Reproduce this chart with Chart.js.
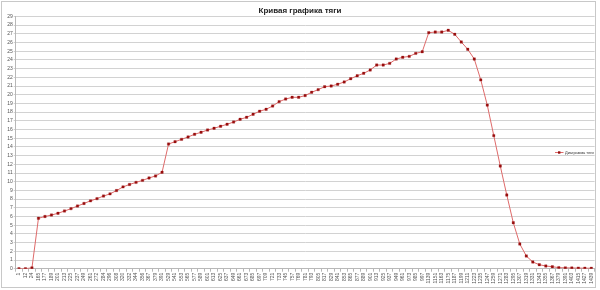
<!DOCTYPE html>
<html>
<head>
<meta charset="utf-8">
<script src="https://cdn.jsdelivr.net/npm/chart.js@4"></script>
<style>
html,body{margin:0;padding:0;background:#fff;}
#wrap{width:600px;height:290px;position:relative;}
</style>
</head>
<body>
<div id="wrap"><canvas id="c" width="600" height="290"></canvas></div>
<script>
const chartTitle = 'Кривая графика тяги';
const seriesName = 'Диаграмма тяги';

const categories = [
  1, 12, 24,
  165, 177, 189, 201, 213, 225, 237, 249, 261, 272, 284, 296, 308, 320, 332, 344, 356, 367, 379, 391,
  529, 541, 553, 565, 577, 589, 601, 613, 625, 637, 649, 661, 673, 685, 697, 709, 721, 733, 745, 757,
  769, 781, 793, 805, 817, 829, 841, 853, 865, 877, 889, 901, 913, 925, 937, 949, 961, 973, 985, 997,
  1139, 1151, 1163, 1175, 1187, 1199, 1211, 1223, 1235, 1247, 1259, 1271, 1283, 1295, 1307, 1319,
  1331, 1343, 1355, 1367, 1379, 1391, 1403, 1415, 1427, 1439
];

const thrust = [
  0, 0, 0.1,
  5.8, 6.0, 6.17, 6.37, 6.63, 6.9, 7.2, 7.5, 7.8, 8.05, 8.35, 8.6, 8.98, 9.4, 9.68, 9.92, 10.15, 10.43, 10.66, 11.08,
  14.33, 14.6, 14.87, 15.14, 15.45, 15.68, 15.94, 16.14, 16.37, 16.6, 16.86, 17.17, 17.4, 17.75, 18.1, 18.32, 18.7,
  19.2, 19.5, 19.7, 19.7, 19.9, 20.28, 20.58, 20.92, 21.0, 21.2, 21.46, 21.84, 22.18, 22.46, 22.84, 23.41, 23.41,
  23.6, 24.1, 24.3, 24.4, 24.75, 24.94,
  27.13, 27.2, 27.2, 27.4, 26.94, 26.06, 25.22, 24.1, 21.7, 18.8, 15.3, 11.8, 8.47, 5.29, 2.84, 1.46, 0.77,
  0.46, 0.31, 0.23, 0.12, 0.1, 0.08, 0.07, 0.06, 0.05
];

const yMin = 0, yMax = 29, yStep = 1;

const lineColor = '#de6a6a';
const markerColor = '#980f0f';
const FONT = '"Liberation Sans", Arial, sans-serif';

const deco = {
  id: 'deco',
  beforeDraw(chart) {
    const ctx = chart.ctx;
    ctx.save();
    ctx.fillStyle = '#fff';
    ctx.fillRect(0, 0, chart.width, chart.height);
    ctx.restore();
  },
  afterDraw(chart) {
    const ctx = chart.ctx;
    ctx.save();
    ctx.strokeStyle = '#c8c8c8';
    ctx.lineWidth = 1;
    ctx.strokeRect(1.5, 1.5, 594, 286);
    ctx.fillStyle = '#222';
    ctx.font = 'bold 8px ' + FONT;
    ctx.textAlign = 'center';
    ctx.textBaseline = 'middle';
    ctx.fillText(chartTitle, 300, 10.5);
    // legend
    const ly = 152.5;
    ctx.strokeStyle = lineColor;
    ctx.beginPath();
    ctx.moveTo(555, ly);
    ctx.lineTo(563.5, ly);
    ctx.stroke();
    ctx.fillStyle = markerColor;
    ctx.fillRect(558, ly - 1.2, 2.4, 2.4);
    ctx.fillStyle = '#333';
    ctx.font = '3.9px ' + FONT;
    ctx.textAlign = 'left';
    ctx.fillText(seriesName, 565, ly);
    ctx.restore();
  }
};

new Chart(document.getElementById('c'), {
  type: 'line',
  data: {
    labels: categories.map(String),
    datasets: [{
      label: seriesName,
      data: thrust,
      borderColor: lineColor,
      borderWidth: 1,
      backgroundColor: markerColor,
      pointStyle: 'rect',
      pointRadius: 1.7,
      pointBorderWidth: 0.3,
      pointBorderColor: markerColor,
      pointBackgroundColor: markerColor,
      tension: 0,
      fill: false
    }]
  },
  options: {
    responsive: false,
    animation: false,
    devicePixelRatio: 1,
    layout: { padding: { top: 16.4, left: 0, right: 5.4, bottom: 0 } },
    plugins: {
      legend: { display: false },
      title: { display: false },
      tooltip: { enabled: false }
    },
    scales: {
      x: {
        type: 'category',
        offset: true,
        grid: { display: true, drawOnChartArea: false, offset: true, tickLength: 3, color: '#b8b8b8' },
        border: { display: true, color: '#b8b8b8' },
        ticks: {
          autoSkip: false,
          minRotation: 90,
          maxRotation: 90,
          padding: 1,
          color: '#555',
          font: { size: 5, family: FONT }
        },
        afterFit(scale) { scale.height = 21.3; }
      },
      y: {
        min: yMin,
        max: yMax,
        grid: { color: '#d2d2d2', tickLength: 2 },
        border: { display: true, color: '#b8b8b8' },
        ticks: {
          stepSize: yStep,
          autoSkip: false,
          maxTicksLimit: 40,
          padding: 1,
          color: '#555',
          font: { size: 5, family: FONT }
        },
        afterFit(scale) { scale.width = 15.7; }
      }
    }
  },
  plugins: [deco]
});
</script>
</body>
</html>
